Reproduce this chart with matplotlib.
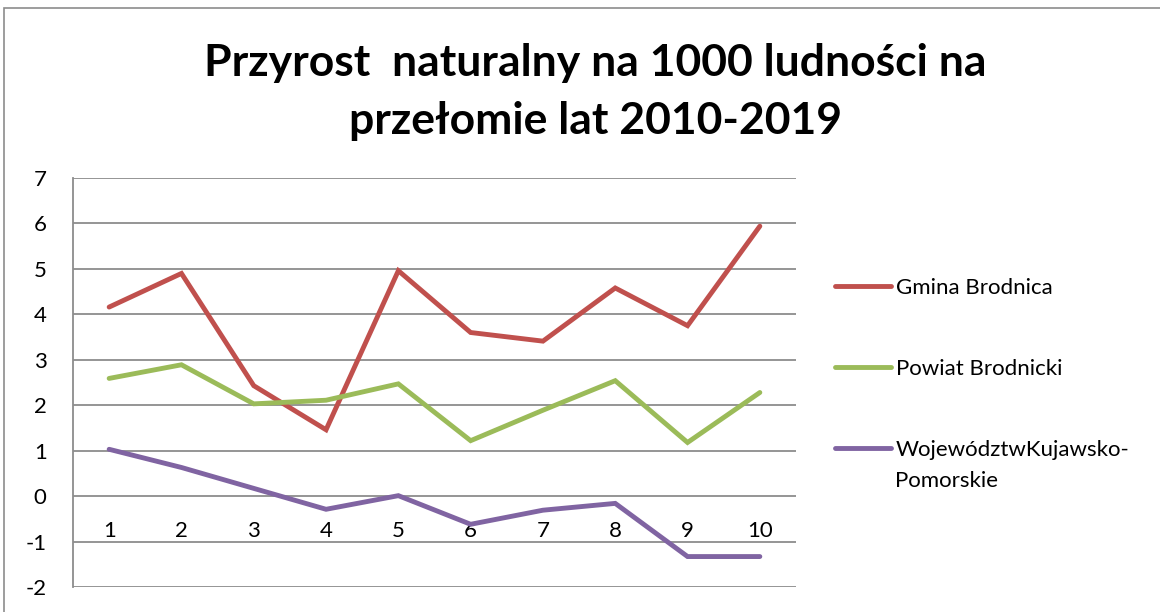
import numpy as np
from matplotlib import pyplot as plt
from matplotlib.patches import Rectangle

plt.rcParams['font.family'] = ['Lato', 'DejaVu Sans']
plt.rcParams['axes.unicode_minus'] = False

#%% data
years = [1, 2, 3, 4, 5, 6, 7, 8, 9, 10]
gmina = [4.16, 4.90, 2.43, 1.46, 4.96, 3.60, 3.41, 4.58, 3.75, 5.94]
powiat = [2.59, 2.89, 2.03, 2.11, 2.47, 1.22, 1.89, 2.54, 1.18, 2.28]
wojewodztwo = [1.03, 0.63, 0.17, -0.29, 0.01, -0.62, -0.31, -0.16, -1.33, -1.33]

labels = ['Gmina Brodnica', 'Powiat Brodnicki', 'WojewództwKujawsko-']
colors = ['#C0504D', '#9BBB59', '#8064A2']

#%% figure
W, H = 1160, 612
fig = plt.figure(figsize=(W/100, H/100), dpi=100)

# chart frame (cut off at right/bottom like the screenshot)
fig.patches.append(Rectangle((4/W, -0.1), 1.2, 1 - 8/H + 0.1, transform=fig.transFigure,
                             fill=False, edgecolor='#8c8c8c', linewidth=1.2))

left, right, top, bot = 73, 796, 178, 587
ax = fig.add_axes([left/W, 1 - bot/H, (right-left)/W, (bot-top)/H])

x = np.arange(len(years))
for series, col, lab in zip([gmina, powiat, wojewodztwo], colors, labels):
    ax.plot(x, series, color=col, linewidth=3.5, solid_capstyle='round',
            solid_joinstyle='miter', label=lab, zorder=3)

ax.set_xlim(-0.5, len(years) - 0.5)
ax.set_ylim(-2, 7)
ax.set_yticks(np.arange(-2, 8, 1))
ax.set_xticks(x)
ax.set_xticklabels([str(v) for v in years])

ax.grid(axis='y', color='#8c8c8c', linewidth=1.3, zorder=0)
ax.set_axisbelow(True)
for s in ['top', 'right']:
    ax.spines[s].set_visible(False)
ax.spines['left'].set_color('#8c8c8c')
ax.spines['left'].set_linewidth(1.3)
ax.spines['bottom'].set_position(('data', 0))
ax.spines['bottom'].set_visible(False)
ax.tick_params(axis='y', length=0, pad=19, labelsize=16)
ax.tick_params(axis='x', length=0, pad=18, labelsize=16)

fig.text(0.5 + 15/W, 1 - 92/H, 'Przyrost  naturalny na 1000 ludności na\nprzełomie lat 2010-2019',
         ha='center', va='center', fontsize=32, fontweight='bold', linespacing=1.55)

leg = fig.legend(loc='upper left', bbox_to_anchor=(815/W, 1 - 258/H), frameon=False,
                 fontsize=16, handlelength=2.5, handletextpad=0.23, labelspacing=2.75)
fig.text(895/W, 1 - 481/H, 'Pomorskie', fontsize=16, va='center', ha='left')

fig.savefig('out.png', dpi=100)
